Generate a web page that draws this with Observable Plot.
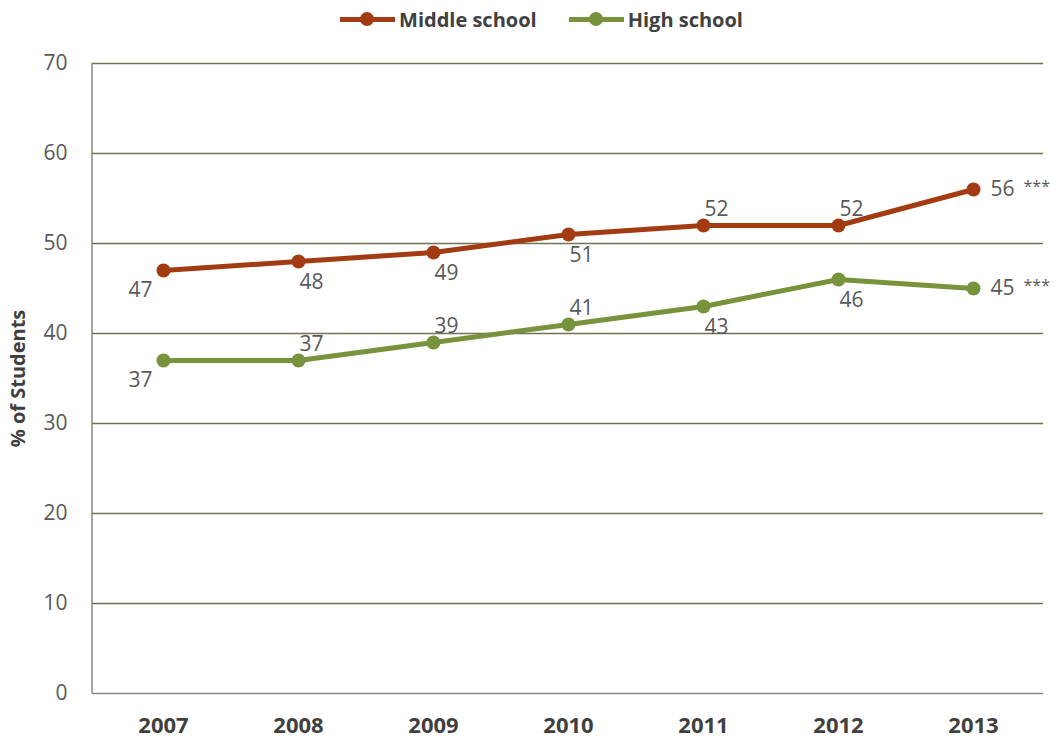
<!DOCTYPE html>
<html>
<head>
<meta charset="utf-8">
<script src="https://cdn.jsdelivr.net/npm/d3@7"></script>
<script src="https://cdn.jsdelivr.net/npm/@observablehq/plot@0.6"></script>
<style>
  html, body { margin: 0; padding: 0; background: #fff; }
  #legend { height: 38px; display: flex; align-items: center; justify-content: center; padding-left: 26px; box-sizing: border-box;
            font-family: "Open Sans", sans-serif; font-weight: bold; font-size: 20px; color: #404040; }
  .item { display: flex; align-items: center; margin: 0 16px; }
  .sw { position: relative; width: 55px; height: 16px; margin-right: 4px; }
  .sw .ln { position: absolute; left: 0; right: 0; top: 6px; height: 5px; }
  .sw .dt { position: absolute; left: 20px; top: 1px; width: 14px; height: 14px; border-radius: 50%; }
</style>
</head>
<body>
<div id="legend"></div>
<div id="chart"></div>
<script>
const years = ["2007", "2008", "2009", "2010", "2011", "2012", "2013"];
const seriesNames = ["Middle school", "High school"];
const seriesColors = ["#A33B12", "#77933C"];
const middleSchool = [47, 48, 49, 51, 52, 52, 56];
const highSchool = [37, 37, 39, 41, 43, 46, 45];
const middleLabelPlace = ["below-left", "below", "below", "below", "above", "above", "right"];
const highLabelPlace = ["below-left", "above", "above", "above", "below", "below", "right"];
const middleSignificance = ["", "", "", "", "", "", "***"];
const highSignificance = ["", "", "", "", "", "", "***"];
const yTicks = [0, 10, 20, 30, 40, 50, 60, 70];
const yLabel = "% of Students";

const rows = [];
years.forEach((yr, i) => {
  rows.push({year: yr, series: seriesNames[0], value: middleSchool[i], place: middleLabelPlace[i], sig: middleSignificance[i]});
  rows.push({year: yr, series: seriesNames[1], value: highSchool[i], place: highLabelPlace[i], sig: highSignificance[i]});
});

// legend
const legend = document.getElementById("legend");
seriesNames.forEach((name, i) => {
  const item = document.createElement("div");
  item.className = "item";
  item.innerHTML = `<div class="sw"><div class="ln" style="background:${seriesColors[i]}"></div><div class="dt" style="background:${seriesColors[i]}"></div></div><span>${name}</span>`;
  legend.appendChild(item);
});

const labelFont = 21;
const labelColor = "#595959";
const placeStyle = {
  "below-left": {dx: -23, dy: 20, textAnchor: "middle"},
  "below": {dx: 13, dy: 21, textAnchor: "middle"},
  "above": {dx: 13, dy: -16, textAnchor: "middle"},
  "right": {dx: 17, dy: 0, textAnchor: "start"}
};

const labelMarks = Object.entries(placeStyle).map(([place, st]) =>
  Plot.text(rows.filter(d => d.place === place), {
    x: "year", y: "value", text: d => String(d.value),
    dx: st.dx, dy: st.dy, textAnchor: st.textAnchor,
    fontSize: labelFont, fill: labelColor
  })
);

const mTop = 25, mBottom = 47, mLeft = 92, mRight = 14, H = 702;

const chart = Plot.plot({
  width: 1057,
  height: H,
  marginTop: mTop,
  marginBottom: mBottom,
  marginLeft: mLeft,
  marginRight: mRight,
  style: {fontFamily: "Open Sans, sans-serif", color: labelColor, background: "#fff", overflow: "visible"},
  x: {type: "point", domain: years, padding: 0.5},
  y: {domain: [0, 70]},
  color: {domain: seriesNames, range: seriesColors},
  marks: [
    Plot.gridY(yTicks.filter(t => t > 0), {stroke: "#727256", strokeOpacity: 1, strokeWidth: 1.5}),
    Plot.ruleY([0], {stroke: "#868686", strokeWidth: 1.5}),
    Plot.axisY({ticks: yTicks, tickSize: 0, tickPadding: 25, fontSize: 21, label: null}),
    Plot.axisX({tickSize: 0, tickPadding: 24, fontSize: 22, fontWeight: "bold", label: null, fill: "#404040"}),
    Plot.text([yLabel], {frameAnchor: "left", rotate: -90, dx: -74, textAnchor: "middle", fontWeight: "bold", fontSize: 20, fill: "#404040"}),
    Plot.line(rows, {x: "year", y: "value", z: "series", stroke: "series", strokeWidth: 5}),
    Plot.dot(rows, {x: "year", y: "value", fill: "series", r: 7}),
    ...labelMarks,
    Plot.text(rows.filter(d => d.sig), {x: "year", y: "value", text: "sig", dx: 50, dy: -3, textAnchor: "start", fontSize: 16, fill: labelColor})
  ]
});

// left axis line along the frame edge
const yScale = chart.scale("y");
d3.select(chart).insert("line", "g")
  .attr("x1", mLeft).attr("x2", mLeft)
  .attr("y1", yScale.apply(70)).attr("y2", yScale.apply(0))
  .attr("stroke", "#868686").attr("stroke-width", 1.5);

document.getElementById("chart").appendChild(chart);
</script>
</body>
</html>
